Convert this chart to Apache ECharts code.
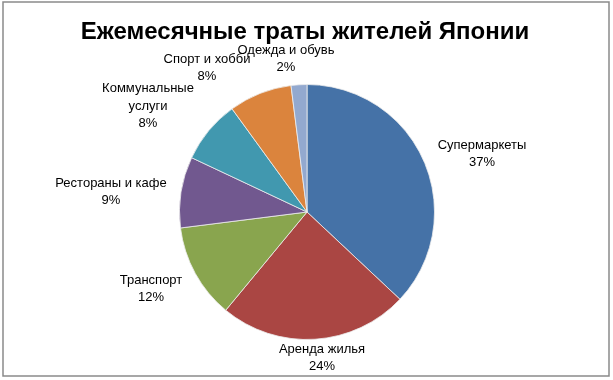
<!DOCTYPE html>
<html><head><meta charset="utf-8">
<script src="https://cdn.jsdelivr.net/npm/echarts@6/dist/echarts.min.js"></script>
<style>html,body{margin:0;padding:0;background:#fff}#c{width:613px;height:380px}</style>
</head><body><div id="c"></div>
<script>
const titleText = 'Ежемесячные траты жителей Японии';
const categories = ['Супермаркеты','Аренда жилья','Транспорт','Рестораны и кафе','Коммунальные услуги','Спорт и хобби','Одежда и обувь'];
const values = [37, 24, 12, 9, 8, 8, 2];
const colors = ['#4572A7','#AA4643','#89A54E','#71588F','#4198AF','#DB843D','#93A9CF'];
// label centres (layout only)
const labelCenters = [[482,154],[322,358],[151,289],[111,192],[148,106],[207,68],[286,59]];
const displayNames = {'Коммунальные услуги':'Коммунальные\nуслуги'};

const chart = echarts.init(document.getElementById('c'));
chart.setOption({
  animation: false,
  title: { text: titleText, left: 300, top: 15, textAlign: 'center',
    textStyle: { fontFamily: 'Liberation Sans', fontWeight: 'bold', fontSize: 24, color: '#000' } },
  graphic: [{ type: 'rect', shape: { x: 3, y: 2, width: 606, height: 374 },
    style: { fill: 'none', stroke: '#8a8a8a', lineWidth: 1.5 }, z: -1 }],
  series: [{
    type: 'pie',
    center: [307, 212],
    radius: 127.5,
    startAngle: 90,
    clockwise: true,
    data: categories.map((n, i) => ({ name: n, value: values[i], itemStyle: { color: colors[i] } })),
    itemStyle: { borderColor: '#eeeeee', borderWidth: 0.8 },
    label: { show: true, position: 'outside', color: '#000', fontFamily: 'Liberation Sans', fontSize: 13, lineHeight: 17.5,
      align: 'center',
      formatter: p => (displayNames[p.name] || p.name) + '\n' + Math.round(p.percent) + '%' },
    labelLine: { show: false },
    labelLayout: p => ({ x: labelCenters[p.dataIndex][0], y: labelCenters[p.dataIndex][1], align: 'center', verticalAlign: 'middle' })
  }]
});
</script></body></html>
